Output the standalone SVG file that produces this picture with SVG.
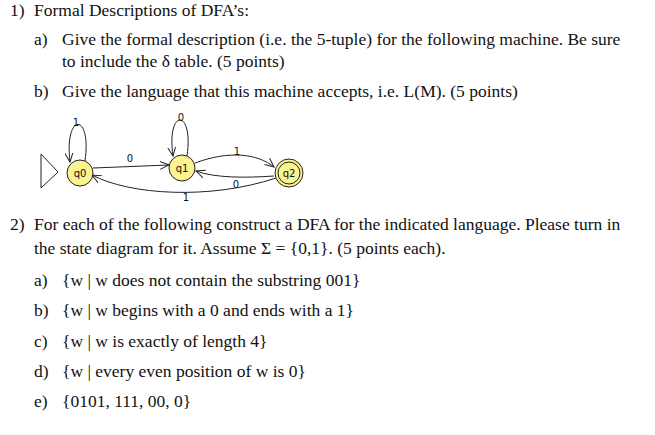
<svg xmlns="http://www.w3.org/2000/svg" width="655" height="435" viewBox="0 0 655 435">
<style>
.t{font-family:"Liberation Serif",serif;font-size:17.5px;fill:#111}
.s{font-family:"DejaVu Sans",sans-serif;font-size:10px;fill:#111;text-anchor:middle}
.st{fill:#fbf38f;stroke:#222;stroke-width:1}
.e{fill:none;stroke:#222;stroke-width:1;marker-end:url(#a)}
</style>
<defs><marker id="a" markerWidth="10" markerHeight="10" refX="9" refY="5" orient="auto" markerUnits="userSpaceOnUse"><path d="M0,1 L9,5 L0,9" fill="none" stroke="#222"/></marker></defs>
<rect width="655" height="435" fill="#fff"/>
<text class="t" x="10" y="16">1)</text><text class="t" x="34" y="16">Formal Descriptions of DFA’s:</text>
<text class="t" x="34" y="45">a)</text><text class="t" x="62" y="45">Give the formal description (i.e. the 5-tuple) for the following machine.  Be sure</text>
<text class="t" x="62" y="67">to include the δ table. (5 points)</text>
<text class="t" x="34" y="97">b)</text><text class="t" x="62" y="97">Give the language that this machine accepts, i.e. L(M). (5 points)</text>
<g id="connectors">
<polygon points="41,154 58,172 41,188" fill="none" stroke="#222"/>
<path class="e" d="M85,161 C92,112 64,112 70,162"/><text class="s" x="76" y="126">1</text>
<path class="e" d="M187,156 C194,108 166,108 173,156"/><text class="s" x="181" y="121">0</text>
<path class="e" d="M93,168 L169,165"/><text class="s" x="130" y="162">0</text>
<path class="e" d="M195,163 C230,150 258,154 274,167"/><text class="s" x="237" y="155">1</text>
<path class="e" d="M274,176 C245,178 215,178 196,171"/><text class="s" x="236" y="188">0</text>
<path class="e" d="M276,178 C210,200 130,195 92,175"/><text class="s" x="186" y="201">1</text>
</g>
<g id="q0"><circle class="st" cx="80" cy="173" r="13"/><text class="s" x="80" y="177">q0</text></g>
<g id="q1"><circle class="st" cx="182" cy="168" r="13"/><text class="s" x="182" y="172">q1</text></g>
<g id="q2"><circle class="st" cx="289" cy="173" r="14"/><circle cx="289" cy="173" r="11" fill="none" stroke="#222"/><text class="s" x="289" y="177">q2</text></g>
<text class="t" x="10" y="230">2)</text><text class="t" x="34" y="230">For each of the following construct a DFA for the indicated language. Please turn in</text>
<text class="t" x="34" y="254">the state diagram for it. Assume Σ = {0,1}. (5 points each).</text>
<text class="t" x="34" y="286">a)</text><text class="t" x="62" y="286">{w | w does not contain the substring 001}</text>
<text class="t" x="34" y="316">b)</text><text class="t" x="62" y="316">{w | w begins with a 0 and ends with a 1}</text>
<text class="t" x="34" y="347">c)</text><text class="t" x="62" y="347">{w | w is exactly of length 4}</text>
<text class="t" x="34" y="377">d)</text><text class="t" x="62" y="377">{w | every even position of w is 0}</text>
<text class="t" x="34" y="407">e)</text><text class="t" x="62" y="407">{0101, 111, 00, 0}</text>
</svg>
